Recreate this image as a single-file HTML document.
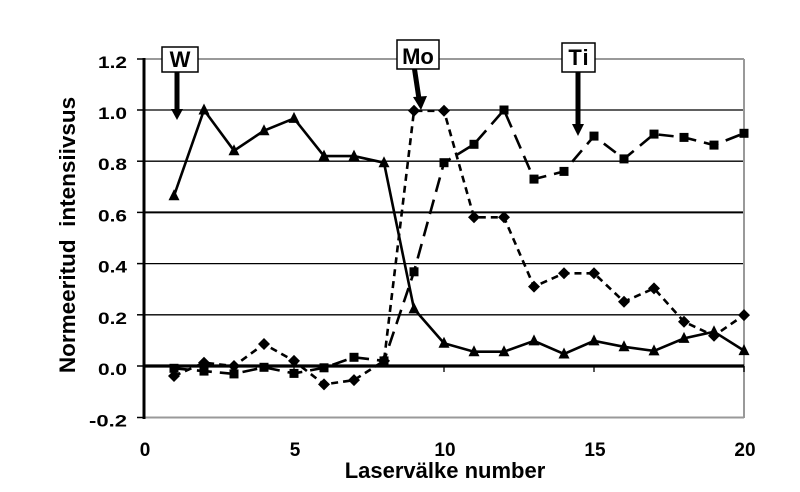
<!DOCTYPE html>
<html><head><meta charset="utf-8"><style>
html,body{margin:0;padding:0;background:#fff;}
svg{display:block;}
text{font-family:"Liberation Sans",Arial,sans-serif;font-weight:bold;fill:#000;}
</style></head><body>
<svg width="800" height="492" viewBox="0 0 800 492" xmlns="http://www.w3.org/2000/svg">
<rect x="0" y="0" width="800" height="492" fill="#fff"/>
<!-- gridlines -->
<line x1="144" y1="110" x2="744" y2="110" stroke="#000" stroke-width="1.3"/>
<line x1="144" y1="161.2" x2="744" y2="161.2" stroke="#000" stroke-width="1.3"/>
<line x1="144" y1="212.4" x2="744" y2="212.4" stroke="#000" stroke-width="2"/>
<line x1="144" y1="263.6" x2="744" y2="263.6" stroke="#000" stroke-width="1.3"/>
<line x1="144" y1="314.8" x2="744" y2="314.8" stroke="#000" stroke-width="1.3"/>
<!-- border gray -->
<line x1="144" y1="59" x2="744" y2="59" stroke="#999" stroke-width="2"/>
<line x1="144" y1="417.5" x2="744" y2="417.5" stroke="#999" stroke-width="2"/>
<line x1="744" y1="59" x2="744" y2="418" stroke="#999" stroke-width="2"/>
<!-- zero line -->
<line x1="144" y1="366" x2="744" y2="366" stroke="#000" stroke-width="3.2"/>
<!-- x ticks -->
<g stroke="#000" stroke-width="1.3">
<line x1="294" y1="366" x2="294" y2="372"/>
<line x1="444" y1="366" x2="444" y2="372"/>
<line x1="594" y1="366" x2="594" y2="372"/>
<line x1="744" y1="366" x2="744" y2="372"/>
</g>
<!-- y axis -->
<line x1="144" y1="58" x2="144" y2="419" stroke="#000" stroke-width="3"/>
<g stroke="#000" stroke-width="1.5">
<line x1="137" y1="59" x2="144" y2="59"/>
<line x1="137" y1="110" x2="144" y2="110"/>
<line x1="137" y1="161.2" x2="144" y2="161.2"/>
<line x1="137" y1="212.4" x2="144" y2="212.4"/>
<line x1="137" y1="263.6" x2="144" y2="263.6"/>
<line x1="137" y1="314.8" x2="144" y2="314.8"/>
<line x1="137" y1="366" x2="144" y2="366"/>
<line x1="137" y1="417.5" x2="144" y2="417.5"/>
</g>
<!-- y tick labels -->
<g font-size="17">
<text x="98" y="68" textLength="29" lengthAdjust="spacingAndGlyphs">1.2</text>
<text x="98" y="119" textLength="29" lengthAdjust="spacingAndGlyphs">1.0</text>
<text x="98" y="170" textLength="29" lengthAdjust="spacingAndGlyphs">0.8</text>
<text x="98" y="221.5" textLength="29" lengthAdjust="spacingAndGlyphs">0.6</text>
<text x="98" y="272.5" textLength="29" lengthAdjust="spacingAndGlyphs">0.4</text>
<text x="98" y="324" textLength="29" lengthAdjust="spacingAndGlyphs">0.2</text>
<text x="98" y="375" textLength="29" lengthAdjust="spacingAndGlyphs">0.0</text>
<text x="89" y="426.5" textLength="38" lengthAdjust="spacingAndGlyphs">-0.2</text>
</g>
<!-- x tick labels -->
<g font-size="19" text-anchor="middle">
<text x="145" y="456">0</text>
<text x="295" y="456">5</text>
<text x="445" y="456">10</text>
<text x="595" y="456">15</text>
<text x="745" y="456">20</text>
</g>
<!-- axis titles -->
<text x="445" y="478" font-size="22" text-anchor="middle">Laservälke number</text>
<text transform="translate(75,235) rotate(-90)" font-size="22.5" text-anchor="middle" xml:space="preserve">Normeeritud  intensiivsus</text>

<!-- Ti series (squares, long dash) -->
<polyline fill="none" stroke="#000" stroke-width="2.6" stroke-dasharray="15,8"
points="174,368.3 204,371.1 234,373.9 264,367.3 294,373.4 324,367.8 354,357.3 384,360.9 414,271.8 444,162.7 474,144.3 504,110 534,179.1 564,171.4 594,136.1 624,158.9 654,134.1 684,137.4 714,145.1 744,133.3"/>
<g fill="#000">
<rect x="169.5" y="363.8" width="9" height="9"/>
<rect x="199.5" y="366.6" width="9" height="9"/>
<rect x="229.5" y="369.4" width="9" height="9"/>
<rect x="259.5" y="362.8" width="9" height="9"/>
<rect x="289.5" y="368.9" width="9" height="9"/>
<rect x="319.5" y="363.3" width="9" height="9"/>
<rect x="349.5" y="352.8" width="9" height="9"/>
<rect x="379.5" y="356.4" width="9" height="9"/>
<rect x="409.5" y="267.3" width="9" height="9"/>
<rect x="439.5" y="158.2" width="9" height="9"/>
<rect x="469.5" y="139.8" width="9" height="9"/>
<rect x="499.5" y="105.5" width="9" height="9"/>
<rect x="529.5" y="174.6" width="9" height="9"/>
<rect x="559.5" y="166.9" width="9" height="9"/>
<rect x="589.5" y="131.6" width="9" height="9"/>
<rect x="619.5" y="154.4" width="9" height="9"/>
<rect x="649.5" y="129.6" width="9" height="9"/>
<rect x="679.5" y="132.9" width="9" height="9"/>
<rect x="709.5" y="140.6" width="9" height="9"/>
<rect x="739.5" y="128.8" width="9" height="9"/>
</g>

<!-- Mo series (diamonds, short dash) -->
<polyline fill="none" stroke="#000" stroke-width="2.6" stroke-dasharray="7,5"
points="174,376 204,362.7 234,366 264,344 294,360.9 324,384.4 354,380.1 384,360.9 414,110.8 444,110.8 474,217.3 504,217.3 534,286.6 564,273.3 594,273.3 624,301.7 654,288.4 684,321.7 714,335.8 744,315.1"/>
<g fill="#000">
<polygon points="174,370 180,376 174,382 168,376"/>
<polygon points="204,356.7 210,362.7 204,368.7 198,362.7"/>
<polygon points="234,360 240,366 234,372 228,366"/>
<polygon points="264,338 270,344 264,350 258,344"/>
<polygon points="294,354.9 300,360.9 294,366.9 288,360.9"/>
<polygon points="324,378.4 330,384.4 324,390.4 318,384.4"/>
<polygon points="354,374.1 360,380.1 354,386.1 348,380.1"/>
<polygon points="384,354.9 390,360.9 384,366.9 378,360.9"/>
<polygon points="414,104.8 420,110.8 414,116.8 408,110.8"/>
<polygon points="444,104.8 450,110.8 444,116.8 438,110.8"/>
<polygon points="474,211.3 480,217.3 474,223.3 468,217.3"/>
<polygon points="504,211.3 510,217.3 504,223.3 498,217.3"/>
<polygon points="534,280.6 540,286.6 534,292.6 528,286.6"/>
<polygon points="564,267.3 570,273.3 564,279.3 558,273.3"/>
<polygon points="594,267.3 600,273.3 594,279.3 588,273.3"/>
<polygon points="624,295.7 630,301.7 624,307.7 618,301.7"/>
<polygon points="654,282.4 660,288.4 654,294.4 648,288.4"/>
<polygon points="684,315.7 690,321.7 684,327.7 678,321.7"/>
<polygon points="714,329.8 720,335.8 714,341.8 708,335.8"/>
<polygon points="744,309.1 750,315.1 744,321.1 738,315.1"/>
</g>

<!-- W series (triangles, solid) -->
<polyline fill="none" stroke="#000" stroke-width="2.6"
points="174,195.8 204,110 234,150.7 264,130.7 294,118.4 324,156.1 354,156.1 384,162.7 414,308.9 444,343.2 474,351.7 504,351.7 534,340.9 564,354 594,340.9 624,346.8 654,350.9 684,338.4 714,331.7 744,350.6"/>
<g fill="#000">
<polygon points="174,189.3 168.5,200.3 179.5,200.3"/>
<polygon points="204,103.5 198.5,114.5 209.5,114.5"/>
<polygon points="234,144.2 228.5,155.2 239.5,155.2"/>
<polygon points="264,124.2 258.5,135.2 269.5,135.2"/>
<polygon points="294,111.9 288.5,122.9 299.5,122.9"/>
<polygon points="324,149.6 318.5,160.6 329.5,160.6"/>
<polygon points="354,149.6 348.5,160.6 359.5,160.6"/>
<polygon points="384,156.2 378.5,167.2 389.5,167.2"/>
<polygon points="414,302.4 408.5,313.4 419.5,313.4"/>
<polygon points="444,336.7 438.5,347.7 449.5,347.7"/>
<polygon points="474,345.2 468.5,356.2 479.5,356.2"/>
<polygon points="504,345.2 498.5,356.2 509.5,356.2"/>
<polygon points="534,334.4 528.5,345.4 539.5,345.4"/>
<polygon points="564,347.5 558.5,358.5 569.5,358.5"/>
<polygon points="594,334.4 588.5,345.4 599.5,345.4"/>
<polygon points="624,340.3 618.5,351.3 629.5,351.3"/>
<polygon points="654,344.4 648.5,355.4 659.5,355.4"/>
<polygon points="684,331.9 678.5,342.9 689.5,342.9"/>
<polygon points="714,325.2 708.5,336.2 719.5,336.2"/>
<polygon points="744,344.1 738.5,355.1 749.5,355.1"/>
</g>

<!-- annotations -->
<rect x="162" y="47" width="36" height="25" fill="#fff" stroke="#000" stroke-width="1.5"/>
<text x="180" y="67" font-size="22" text-anchor="middle">W</text>
<line x1="177" y1="72" x2="177" y2="111" stroke="#000" stroke-width="5"/>
<polygon points="171,109 183,109 177,120" fill="#000"/>

<rect x="397" y="40" width="42" height="29" fill="#fff" stroke="#000" stroke-width="1.5"/>
<text x="418" y="64" font-size="22" text-anchor="middle">Mo</text>
<line x1="414.5" y1="69" x2="419" y2="99" stroke="#000" stroke-width="5"/>
<polygon points="413,97 427,96 421,110" fill="#000"/>

<rect x="562" y="43" width="33" height="29" fill="#fff" stroke="#000" stroke-width="1.5"/>
<text x="579" y="65" font-size="22" text-anchor="middle" letter-spacing="1">Ti</text>
<line x1="578" y1="72" x2="578" y2="126" stroke="#000" stroke-width="5"/>
<polygon points="572,124 584,124 578,136" fill="#000"/>
</svg>
</body></html>
